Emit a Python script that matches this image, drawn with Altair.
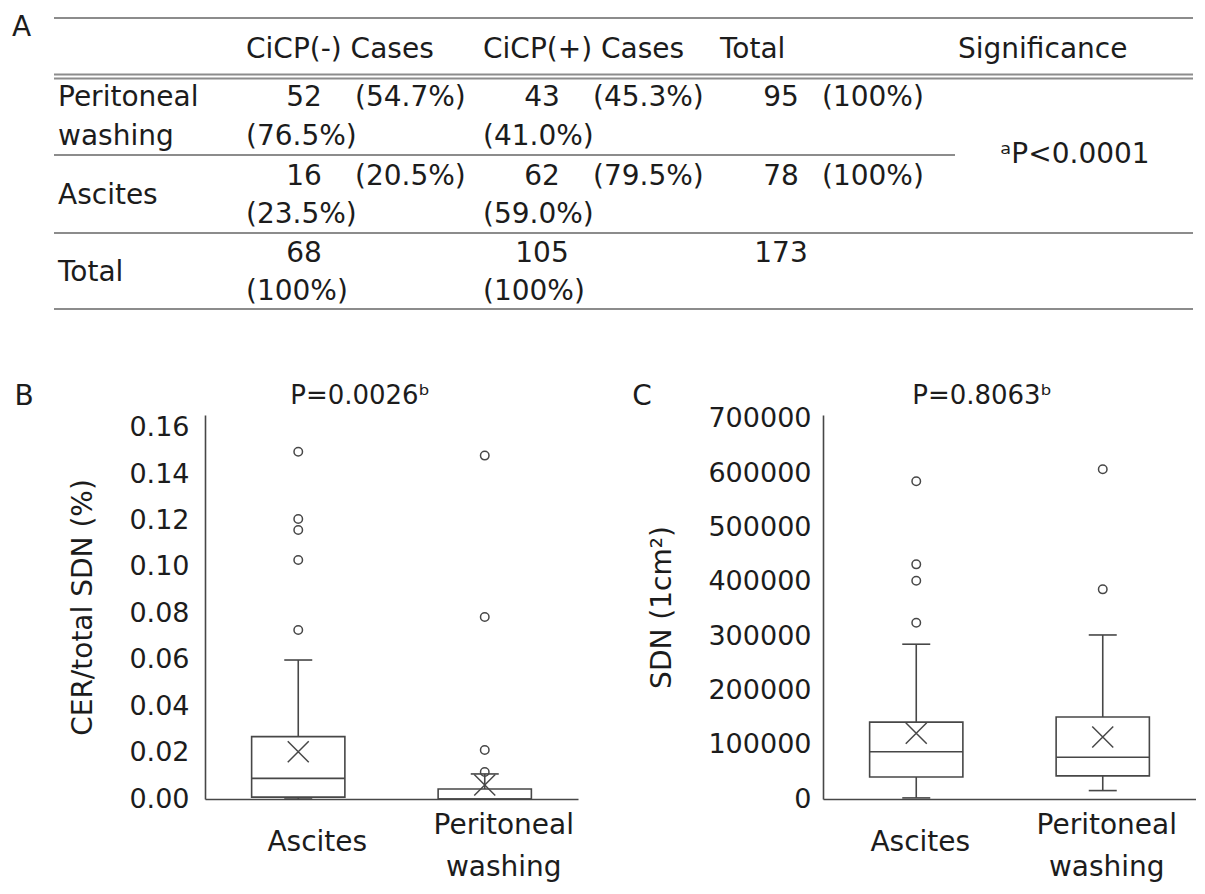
import altair as alt
import pandas as pd

FONT = "DejaVu Sans"
INK = "#1c1c1c"
BOX = "#474747"
RULE = "#8c8c8c"

# ---------------- Panel A: contingency table (values) ----------------
row_names = ["Peritoneal washing", "Ascites", "Total"]
neg_counts = [52, 16, 68]
neg_row_pct = ["54.7%", "20.5%", ""]
neg_col_pct = ["76.5%", "23.5%", "100%"]
pos_counts = [43, 62, 105]
pos_row_pct = ["45.3%", "79.5%", ""]
pos_col_pct = ["41.0%", "59.0%", "100%"]
total_counts = [95, 78, 173]
total_row_pct = ["100%", "100%", ""]
header_labels = ["CiCP(-) Cases", "CiCP(+) Cases", "Total", "Significance"]
significance_text = "ᵃP<0.0001"

# ---------------- Panel B: CER / total SDN (%) ----------------
groups = ["Ascites", "Peritoneal washing"]
cer_min = [0.0, 0.0]
cer_q1 = [0.0008, 0.0]
cer_median = [0.0089, 0.0]
cer_q3 = [0.0269, 0.0043]
cer_max = [0.0599, 0.0108]
cer_mean = [0.0204, 0.0060]
cer_out_ascites = [0.1497, 0.1207, 0.1159, 0.1030, 0.0728]
cer_out_washing = [0.1480, 0.0784, 0.0211, 0.0116]
cer_ticks = [0.00, 0.02, 0.04, 0.06, 0.08, 0.10, 0.12, 0.14, 0.16]

# ---------------- Panel C: SDN (1cm2) ----------------
sdn_min = [2000, 15500]
sdn_q1 = [40500, 42500]
sdn_median = [87000, 77000]
sdn_q3 = [141500, 151000]
sdn_max = [285000, 302000]
sdn_mean = [121000, 114000]
sdn_out_ascites = [585000, 432000, 402000, 324500]
sdn_out_washing = [607000, 386000]
sdn_ticks = [0, 100000, 200000, 300000, 400000, 500000, 600000, 700000]

# ---------------- layout of the table (pixels inside the table view) ----------------
TABLE_W, TABLE_H = 988, 291
col_x = {"panel": -193, "label": -147,
         "neg_n": 99, "neg_rp": 150, "neg_cp": 41,
         "pos_n": 337, "pos_rp": 388, "pos_cp": 278,
         "tot_n": 576, "tot_rp": 617, "tot_h": 515,
         "sig_h": 753, "sig": 870,
         "rule_start": -151, "rule_end": 988, "rule_mid": 750}
head_y = 32
row_lines = [(80, 119), (159, 197), (236, 274)]
sig_y = 137
panel_y = 10
rule_rows = [(0, "rule_end"), (56.5, "rule_end"), (60.5, "rule_end"),
             (137, "rule_mid"), (215, "rule_end"), (291, "rule_end")]

cells = []


def add(text, col, y, align):
    cells.append({"text": text, "x": col_x[col], "y": y, "align": align})


add("A", "panel", panel_y, "left")
for lab, col in zip(header_labels, ["neg_cp", "pos_cp", "tot_h", "sig_h"]):
    add(lab, col, head_y, "left")
for i, name in enumerate(row_names):
    ya, yb = row_lines[i]
    words = name.split(" ")
    if len(words) > 1:
        add(words[0], "label", ya, "left")
        add(" ".join(words[1:]), "label", yb, "left")
    else:
        add(name, "label", (ya + yb) / 2, "left")
    add(str(neg_counts[i]), "neg_n", ya, "center")
    if neg_row_pct[i]:
        add(f"({neg_row_pct[i]})", "neg_rp", ya, "left")
    add(f"({neg_col_pct[i]})", "neg_cp", yb, "left")
    add(str(pos_counts[i]), "pos_n", ya, "center")
    if pos_row_pct[i]:
        add(f"({pos_row_pct[i]})", "pos_rp", ya, "left")
    add(f"({pos_col_pct[i]})", "pos_cp", yb, "left")
    add(str(total_counts[i]), "tot_n", ya, "center")
    if total_row_pct[i]:
        add(f"({total_row_pct[i]})", "tot_rp", ya, "left")
add(significance_text, "sig", sig_y, "center")

cells_df = pd.DataFrame(cells)
rules_df = pd.DataFrame({"y": [r[0] for r in rule_rows],
                         "x": [col_x["rule_start"]] * len(rule_rows),
                         "x2": [col_x[r[1]] for r in rule_rows]})

tx = alt.X("x:Q", scale=alt.Scale(domain=[0, TABLE_W], nice=False, zero=False), axis=None)
ty = alt.Y("y:Q", scale=alt.Scale(domain=[TABLE_H, 0], nice=False, zero=False), axis=None)

t_rules = alt.Chart(rules_df).mark_rule(color=RULE, strokeWidth=1.8).encode(x=tx, x2="x2:Q", y=ty)
t_left = alt.Chart(cells_df).transform_filter(alt.datum.align == "left").mark_text(
    align="left", baseline="middle", font=FONT, fontSize=28, color=INK
).encode(x=tx, y=ty, text="text:N")
t_center = alt.Chart(cells_df).transform_filter(alt.datum.align == "center").mark_text(
    align="center", baseline="middle", font=FONT, fontSize=28, color=INK
).encode(x=tx, y=ty, text="text:N")
table = alt.layer(t_rules, t_left, t_center).properties(width=TABLE_W, height=TABLE_H)

XPATH = "M-1,-1L1,1M-1,1L1,-1"
PW, PH = 373, 384


def box_panel(mins, q1s, meds, q3s, maxs, means, out_a, out_w, ymax, ticks, fmt,
              ytitle, ptitle, title_x, letter, lab_pad, lab_off):
    stats = pd.DataFrame({"group": groups, "min": mins, "q1": q1s, "median": meds,
                          "q3": q3s, "max": maxs, "mean": means})
    outs = pd.DataFrame({"group": [groups[0]] * len(out_a) + [groups[1]] * len(out_w),
                         "value": out_a + out_w})
    xaxis = alt.Axis(title=None, ticks=False, labels=False, domainColor=BOX, domainWidth=1.6,
                     grid=False)
    xenc = alt.X("group:N", scale=alt.Scale(domain=groups, paddingInner=0.5, paddingOuter=0.25),
                 axis=xaxis)
    yaxis = alt.Axis(values=ticks, format=fmt, ticks=False, grid=False, domainColor=BOX,
                     domainWidth=1.6, labelFont=FONT, labelFontSize=27, labelColor=INK,
                     labelPadding=lab_pad, labelFlush=False, labelOverlap=False,
                     title=ytitle, titleFont=FONT, titleFontSize=28, titleFontWeight="normal",
                     titleColor=INK, titlePadding=31)
    yscale = alt.Scale(domain=[0, ymax], nice=False, zero=True)

    def Y(f):
        return alt.Y(f, scale=yscale, axis=yaxis)

    base = alt.Chart(stats)
    upper = base.mark_rule(color=BOX, strokeWidth=1.6).encode(x=xenc, y=Y("q3:Q"), y2="max:Q")
    lower = base.mark_rule(color=BOX, strokeWidth=1.6).encode(x=xenc, y=Y("min:Q"), y2="q1:Q")
    cap_t = base.mark_tick(color=BOX, thickness=1.6, size=28, opacity=1).encode(x=xenc, y=Y("max:Q"))
    cap_b = base.mark_tick(color=BOX, thickness=1.6, size=28, opacity=1).encode(x=xenc, y=Y("min:Q"))
    box = base.mark_bar(fill="white", stroke=BOX, strokeWidth=1.6).encode(x=xenc, y=Y("q1:Q"), y2="q3:Q")
    med = base.mark_tick(color=BOX, thickness=1.6, size=93, opacity=1).encode(x=xenc, y=Y("median:Q"))
    mean = base.mark_point(shape=XPATH, size=441, filled=False, color=BOX, strokeWidth=1.5,
                           opacity=1).encode(x=xenc, y=Y("mean:Q"))
    outl = alt.Chart(outs).mark_point(shape="circle", size=72, filled=False, color=BOX,
                                      strokeWidth=1.5, opacity=1).encode(x=xenc, y=Y("value:Q"))

    # category labels under the x axis (single-line centred, two-line starting higher)
    cat = alt.Chart(stats).transform_calculate(multi="indexof(datum.group, ' ') >= 0")
    cat_single = cat.transform_filter("!datum.multi").mark_text(
        align="center", baseline="middle", font=FONT, fontSize=28, color=INK, dx=lab_off
    ).encode(x=xenc, y=alt.value(PH + 44), text="group:N")
    cat_multi = cat.transform_filter("datum.multi").mark_text(
        align="center", baseline="middle", font=FONT, fontSize=28, color=INK, dx=lab_off,
        lineBreak=" ", lineHeight=42
    ).encode(x=xenc, y=alt.value(PH + 27), text="group:N")

    notes = pd.DataFrame({"t": [letter, ptitle], "kind": ["letter", "title"]})
    lett = alt.Chart(notes).transform_filter(alt.datum.kind == "letter").mark_text(
        align="center", baseline="middle", font=FONT, fontSize=28, color=INK
    ).encode(x=alt.value(-181), y=alt.value(-18), text="t:N")
    ttl = alt.Chart(notes).transform_filter(alt.datum.kind == "title").mark_text(
        align="center", baseline="middle", font=FONT, fontSize=26, color=INK
    ).encode(x=alt.value(title_x), y=alt.value(-19), text="t:N")
    return alt.layer(upper, lower, cap_t, cap_b, box, med, mean, outl,
                     cat_single, cat_multi, lett, ttl).properties(width=PW, height=PH)


panel_b = box_panel(cer_min, cer_q1, cer_median, cer_q3, cer_max, cer_mean,
                    cer_out_ascites, cer_out_washing, 0.1655, cer_ticks, ".2f",
                    "CER/total SDN (%)", "P=0.0026ᵇ", 155, "B", 16, 19)
panel_c = box_panel(sdn_min, sdn_q1, sdn_median, sdn_q3, sdn_max, sdn_mean,
                    sdn_out_ascites, sdn_out_washing, 707000, sdn_ticks, "d",
                    "SDN (1cm²)", "P=0.8063ᵇ", 159, "C", 12, 4)

bottom = alt.hconcat(panel_b, panel_c, spacing=245, bounds="flush")
chart = alt.vconcat(table, bottom, spacing=106, bounds="flush").properties(
    padding={"left": 4, "top": 6, "right": 0, "bottom": 0}
).configure_view(stroke=None)

chart.save("out.html", embed_options={"renderer": "svg", "actions": False})
